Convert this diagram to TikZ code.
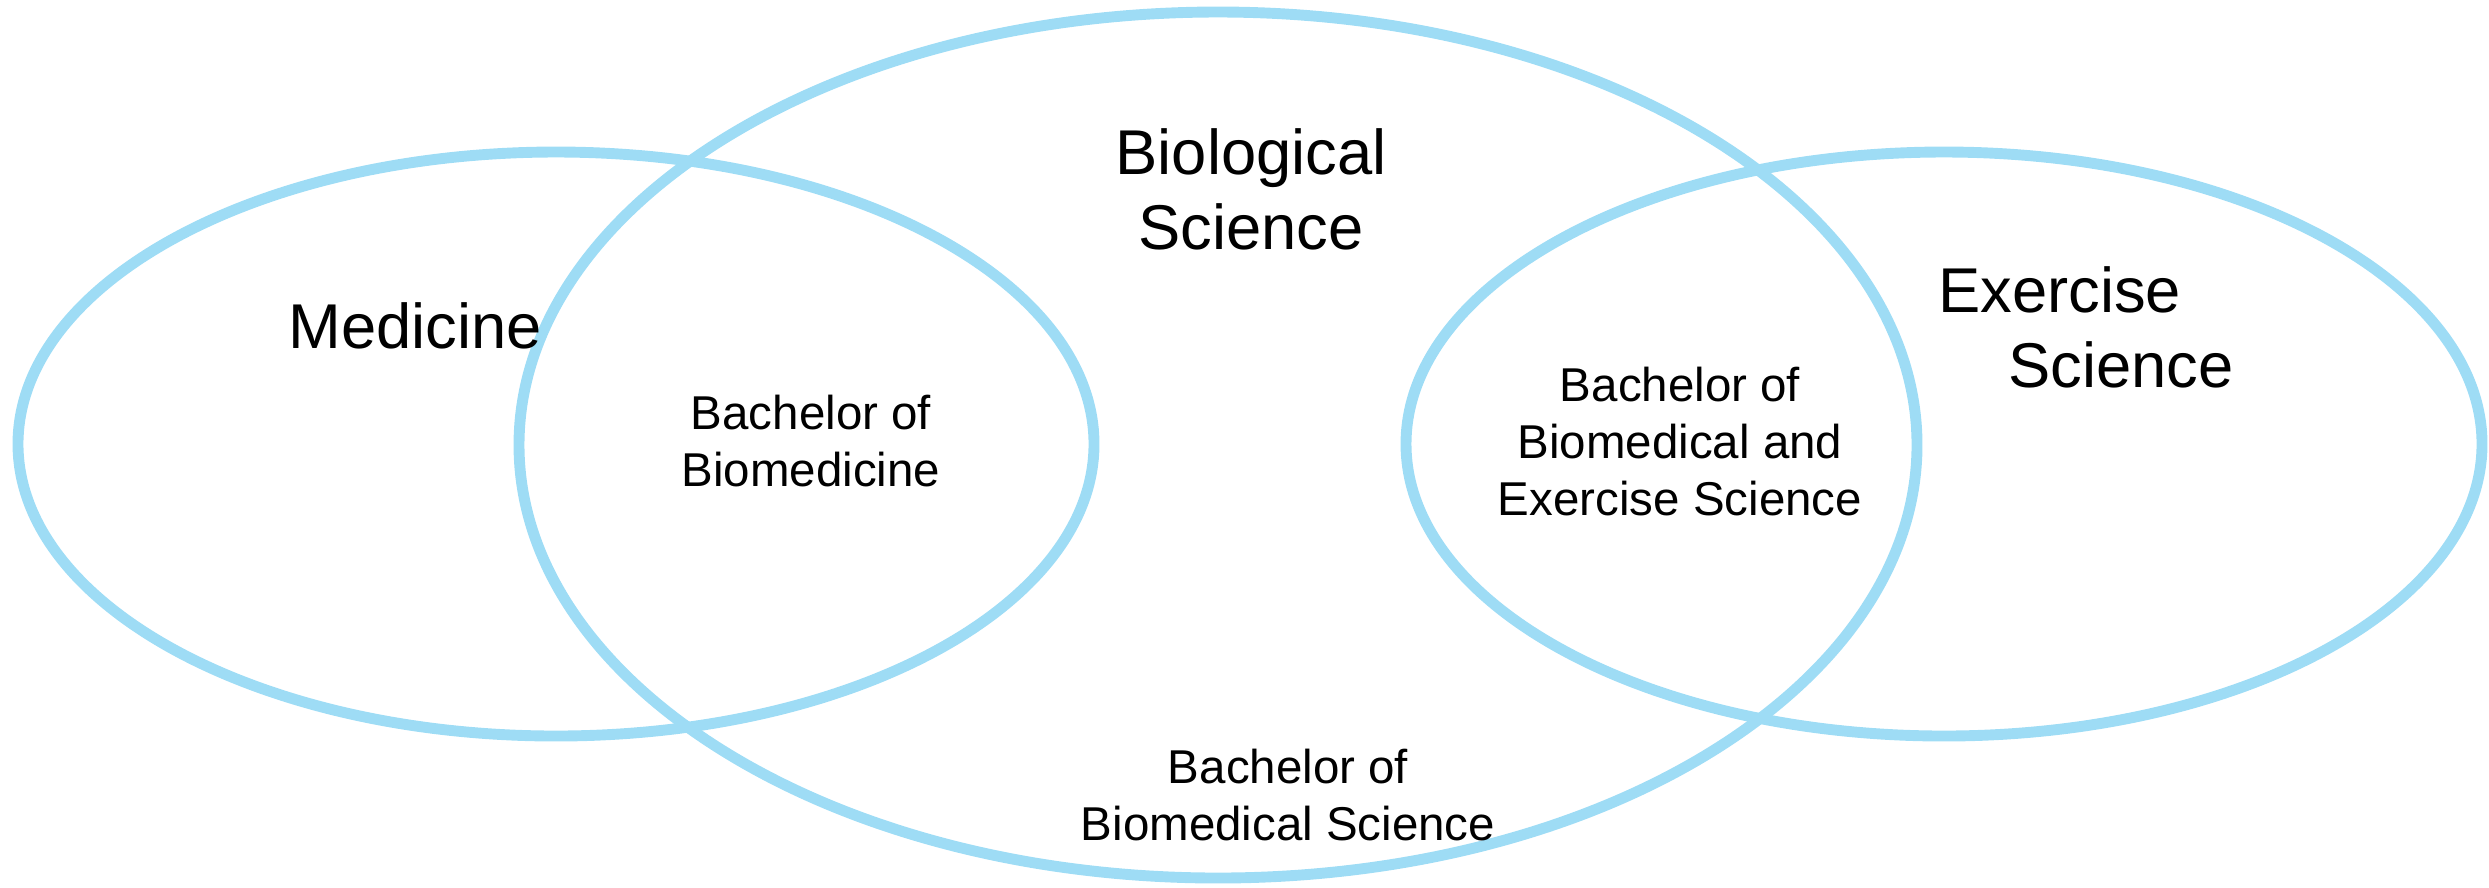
\documentclass[tikz,border=0pt]{standalone}
\usepackage{fontspec}
\setmainfont{Liberation Sans}
\usetikzlibrary{positioning}
\definecolor{vennblue}{RGB}{158,220,245}

\begin{document}
\begin{tikzpicture}[x=0.01cm, y=-0.01cm,
    ring/.style={draw=vennblue, line width=3.1pt},
    field/.style={align=center, anchor=base, font=\fontsize{18}{21.3}\selectfont},
    degree/.style={align=center, anchor=base, font=\fontsize{13.5}{16.2}\selectfont}]
    \useasboundingbox (0,0) rectangle (2489,887);
    \draw[ring] (556,444) ellipse [x radius=538, y radius=292];
    \draw[ring] (1218,445) ellipse [x radius=699, y radius=433];
    \draw[ring] (1944,444) ellipse [x radius=538, y radius=292];
    \node[field] (medicine) at (415,348) {Medicine};
    \node[field] (biology) at (1251,249) {Biological\\Science};
    \node[field, align=left, anchor=base west] (exercise) at (1926,387) {Exercise\\\hspace*{0.7cm}Science};
    \node[degree] (biomedicine) at (811,486) {Bachelor of\\Biomedicine};
    \node[degree] (biomedsci) at (1288,840) {Bachelor of\\Biomedical Science};
    \node[degree] (biomedex) at (1680,515) {Bachelor of\\Biomedical and\\Exercise Science};
\end{tikzpicture}
\end{document}
